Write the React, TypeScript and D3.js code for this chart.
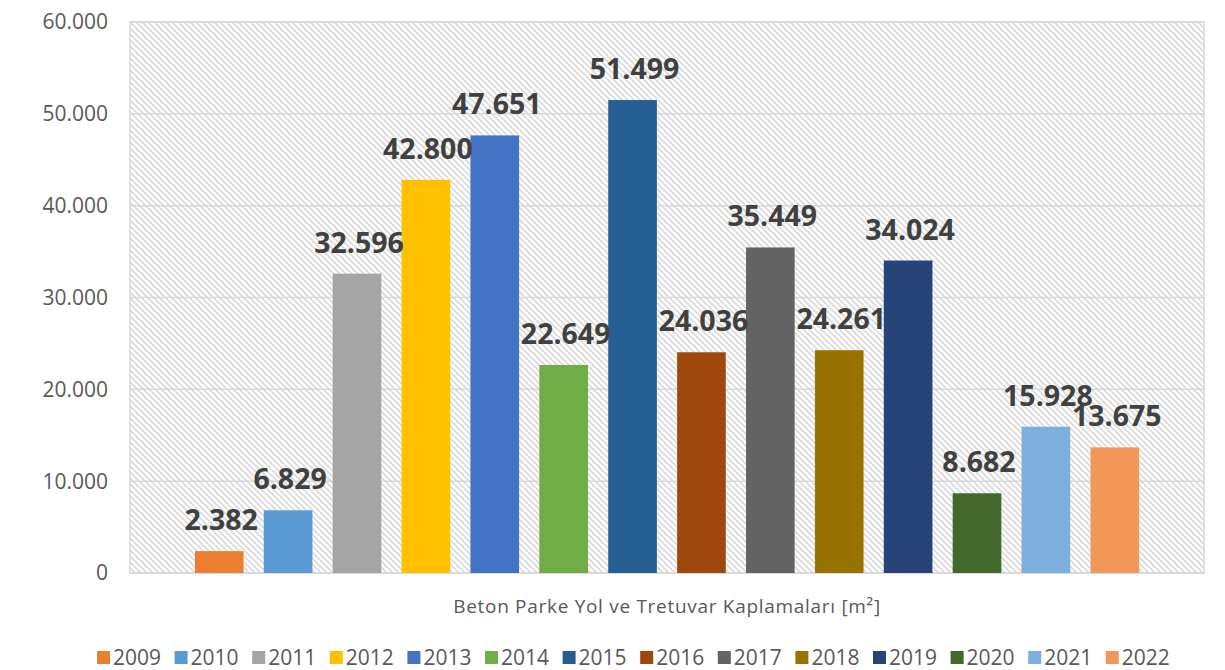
import React from "react";
import * as d3 from "d3";

const years = ["2009","2010","2011","2012","2013","2014","2015","2016","2017","2018","2019","2020","2021","2022"];
const values = [2382, 6829, 32596, 42800, 47651, 22649, 51499, 24036, 35449, 24261, 34024, 8682, 15928, 13675];
const colors = ["#ED7D31","#5B9BD5","#A5A5A5","#FFC000","#4472C4","#70AD47","#255E91","#9E480E","#636363","#997300","#264478","#43682B","#7CAFDD","#F1975A"];
const yTicks = [0, 10000, 20000, 30000, 40000, 50000, 60000];
const axisTitle = "Beton Parke Yol ve Tretuvar Kaplamaları [m²]";

const W = 1225, H = 670;
const left = 130, right = 1204, top = 22, bottom = 573;

const fmt = (v: number) => d3.format(",")(v).replace(/,/g, ".");

export default function App() {
  const x = d3.scaleBand<string>().domain(years).range([left, right]).paddingInner(0.294).paddingOuter(0.942);
  const y = d3.scaleLinear().domain([0, 60000]).range([bottom, top]);
  const legendStep = 77.6;
  const legendX0 = 97;
  return (
    <svg width={W} height={H} style={{ position: "absolute", left: 0, top: 0 }}>
      <defs>
        <pattern id="hatch" width="6" height="6" patternUnits="userSpaceOnUse">
          <rect width="6" height="6" fill="#fff" />
          <path d="M-1,-1 L7,7 M-4,2 L2,8 M4,-2 L10,4" stroke="#dcdcdc" strokeWidth="1.8" />
        </pattern>
      </defs>
      <rect x={0} y={0} width={W} height={H} fill="#fff" />
      <rect x={left} y={top} width={right - left} height={bottom - top} fill="url(#hatch)" />
      {yTicks.map((t) => (
        <line key={t} x1={left} x2={right} y1={y(t)} y2={y(t)} stroke="#d9d9d9" strokeWidth={1.5} />
      ))}
      <rect x={left} y={top} width={right - left} height={bottom - top} fill="none" stroke="#d9d9d9" strokeWidth={1.5} />
      {yTicks.map((t) => (
        <text key={"l" + t} x={108} y={y(t)} dy="0.35em" textAnchor="end" fontFamily="Open Sans" fontSize={21} fill="#595959">
          {fmt(t)}
        </text>
      ))}
      {years.map((yr, i) => (
        <rect key={yr} x={x(yr)} y={y(values[i])} width={x.bandwidth()} height={y(0) - y(values[i])} fill={colors[i]} />
      ))}
      {years.map((yr, i) => (
        <text key={"v" + yr} x={(x(yr) as number) + x.bandwidth() / 2 + 2} y={y(values[i]) - 21} textAnchor="middle" fontFamily="Open Sans" fontWeight="bold" fontSize={28.5} fill="#404040">
          {fmt(values[i])}
        </text>
      ))}
      <text x={(left + right) / 2} y={613} textAnchor="middle" fontFamily="Open Sans" fontSize={19} letterSpacing={0.7} fill="#595959">
        {axisTitle}
      </text>
      {years.map((yr, i) => (
        <g key={"g" + yr} transform={`translate(${legendX0 + i * legendStep},0)`}>
          <rect x={0} y={651} width={13} height={13} fill={colors[i]} />
          <text x={16} y={665} fontFamily="Open Sans" fontSize={21} fill="#595959">{yr}</text>
        </g>
      ))}
    </svg>
  );
}
